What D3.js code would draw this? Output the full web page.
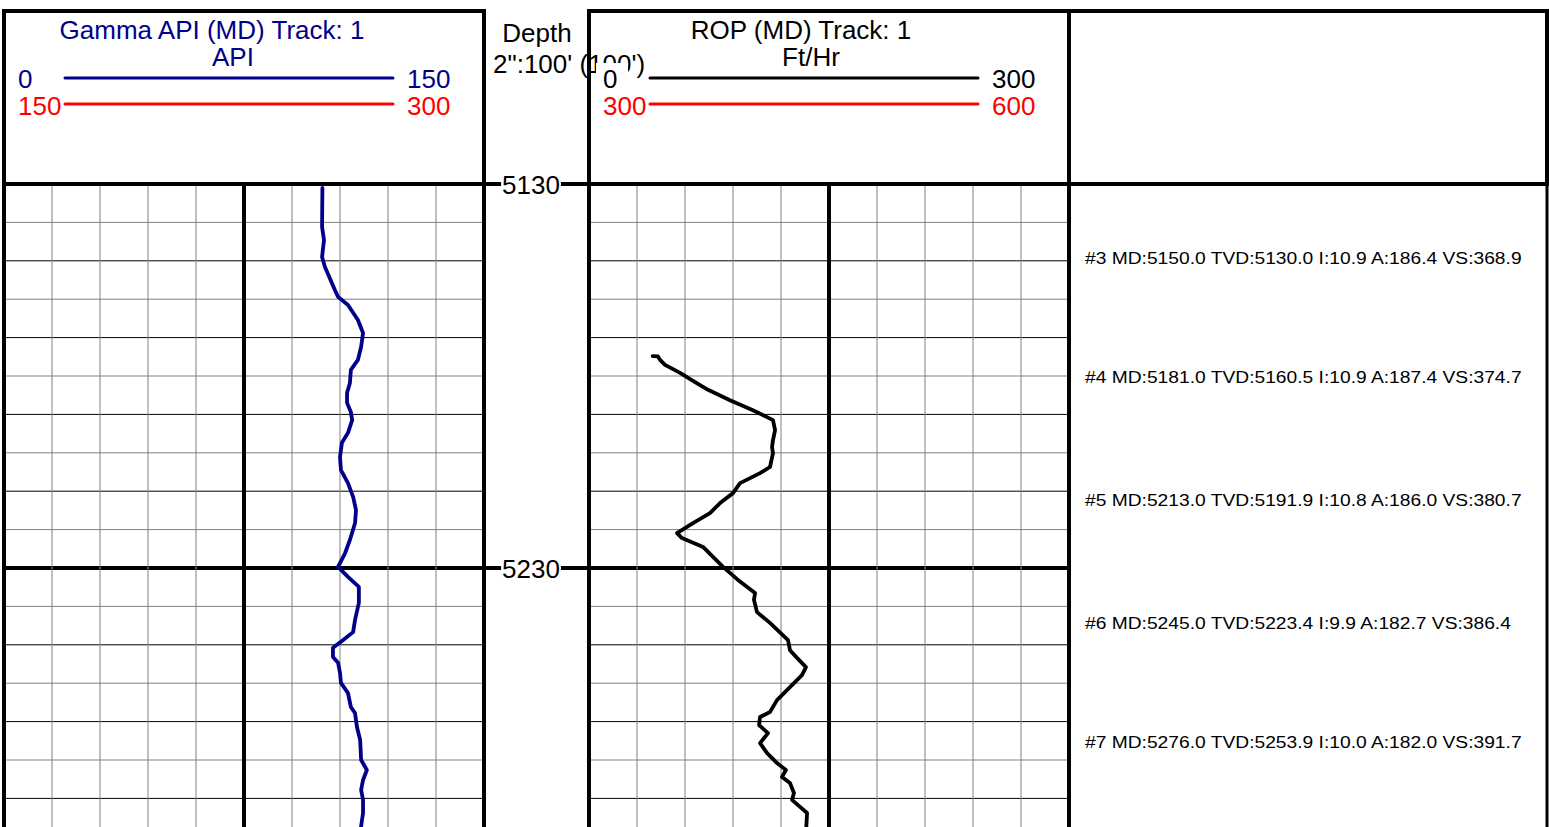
<!DOCTYPE html>
<html>
<head>
<meta charset="utf-8">
<script src="https://cdn.jsdelivr.net/npm/d3@7/dist/d3.min.js"></script>
<style>
  body { margin: 0; background: #fff; }
  svg { display: block; font-family: "Liberation Sans", Arial, sans-serif; }
</style>
</head>
<body>
<script>
// gamma ray (API) against measured depth
var gammaDepth = [5131.0, 5141.2, 5144.6, 5149.0, 5151.6, 5157.6, 5159.4, 5161.5, 5165.4, 5168.8,
  5172.4, 5175.8, 5178.4, 5181.8, 5184.4, 5187.0, 5189.4, 5191.5, 5194.8, 5197.4,
  5201.1, 5204.5, 5207.9, 5211.5, 5214.9, 5218.3, 5222.7, 5226.1, 5229.7, 5232.3,
  5234.9, 5239.1, 5243.5, 5246.7, 5248.8, 5250.8, 5253.2, 5254.7, 5257.3, 5259.9,
  5262.6, 5266.2, 5267.8, 5271.4, 5274.8, 5280.0, 5282.6, 5285.2, 5287.8, 5290.4,
  5293.8, 5299.0];
var gammaApi = [99.5, 99.4, 100.0, 99.4, 100.3, 103.4, 104.4, 107.5, 110.6, 112.2,
  111.6, 110.6, 108.4, 108.1, 107.2, 107.2, 108.4, 108.8, 107.5, 105.6,
  105.0, 105.3, 107.5, 109.1, 110.0, 109.7, 108.1, 106.6, 104.4, 107.5,
  110.9, 110.9, 109.7, 109.1, 105.9, 102.8, 102.8, 104.4, 105.0, 105.3,
  107.5, 108.4, 109.7, 110.3, 111.3, 111.6, 113.4, 112.2, 111.6, 112.2,
  112.2, 111.3];

// rate of penetration (ft/hr)
var ropDepth = [5174.8, 5174.9, 5175.8, 5177.1, 5179.2, 5181.6, 5183.6, 5186.3, 5188.9, 5191.5,
  5194.1, 5196.7, 5198.5, 5200.1, 5203.7, 5205.3, 5207.9, 5210.5, 5213.1, 5215.7,
  5218.3, 5220.9, 5222.2, 5224.5, 5227.1, 5229.7, 5233.1, 5236.5, 5238.3, 5241.5,
  5244.3, 5248.8, 5251.4, 5253.4, 5255.8, 5257.9, 5261.0, 5264.4, 5267.5, 5268.8,
  5270.9, 5273.0, 5275.6, 5278.2, 5280.8, 5282.6, 5284.4, 5286.0, 5288.6, 5290.4,
  5292.2, 5293.8, 5299.0];
var ropRate = [39.8, 43.1, 44.4, 47.5, 56.9, 66.3, 74.4, 88.1, 102.5, 115.0,
  116.3, 115.0, 114.4, 115.0, 113.1, 106.9, 94.4, 90.0, 81.9, 75.6,
  65.0, 55.0, 58.1, 71.3, 77.5, 83.8, 93.1, 103.8, 103.1, 105.0,
  113.1, 124.4, 125.6, 130.0, 135.6, 133.1, 125.6, 117.5, 113.1, 106.9,
  106.3, 111.9, 106.9, 111.3, 117.5, 123.1, 120.6, 125.6, 128.1, 126.9,
  131.9, 136.3, 135.6];

// survey stations
var surveyNo = [3, 4, 5, 6, 7];
var surveyMd = [5150.0, 5181.0, 5213.0, 5245.0, 5276.0];
var surveyTvd = [5130.0, 5160.5, 5191.9, 5223.4, 5253.9];
var surveyInc = [10.9, 10.9, 10.8, 9.9, 10.0];
var surveyAzi = [186.4, 187.4, 186.0, 182.7, 182.0];
var surveyVs = [368.9, 374.7, 380.7, 386.4, 391.7];

var depthLabels = [5130, 5230];
var gammaRange = [0, 150], gammaWrap = [150, 300];
var ropRange = [0, 300], ropWrap = [300, 600];

var w = 1549, h = 827;
var headTop = 11, gridTop = 184;
var navy = '#00008b', red = '#ff0000';
var bigFont = '26px';

var svg = d3.select('body').append('svg')
  .attr('width', w)
  .attr('height', h);

var y = d3.scaleLinear().domain([5130, 5230]).range([gridTop, 568]);
var depthEnd = y.invert(h);

var tracks = [
  { x: d3.scaleLinear().domain(gammaRange).range([4, 484]), wrap: gammaWrap, color: navy,
    title: 'Gamma API (MD) Track: 1', unit: 'API', titleX: 212, unitX: 233,
    depth: gammaDepth, vals: gammaApi },
  { x: d3.scaleLinear().domain(ropRange).range([589, 1069]), wrap: ropWrap, color: '#000',
    title: 'ROP (MD) Track: 1', unit: 'Ft/Hr', titleX: 801, unitX: 811,
    depth: ropDepth, vals: ropRate }
];

var gridDepths = d3.range(5130, depthEnd, 10);

tracks.forEach(function(t) {
  var r = t.x.range(), dom = t.x.domain();
  var g = svg.append('g');
  var divs = d3.range(1, 10).map(function(i) { return dom[0] + i * (dom[1] - dom[0]) / 10; });

  g.selectAll('line.h').data(gridDepths).enter().append('line')
    .attr('x1', r[0]).attr('x2', r[1])
    .attr('y1', y).attr('y2', y)
    .attr('stroke', function(d) { return (d - 5130) % 20 === 0 ? '#000' : '#808080'; })
    .attr('stroke-width', function(d) { return (d - 5130) % 100 === 0 ? 4 : 1; });

  g.selectAll('line.v').data(divs).enter().append('line')
    .attr('x1', t.x).attr('x2', t.x)
    .attr('y1', gridTop).attr('y2', h)
    .attr('stroke', function(d, i) { return i === 4 ? '#000' : '#808080'; })
    .attr('stroke-width', function(d, i) { return i === 4 ? 4 : 1; });

  var line = d3.line()
    .x(function(d, i) { return t.x(t.vals[i]); })
    .y(function(d) { return y(d); });

  g.append('path')
    .attr('d', line(t.depth))
    .attr('fill', 'none')
    .attr('stroke', t.color)
    .attr('stroke-width', 3.8)
    .attr('stroke-linejoin', 'round')
    .attr('stroke-linecap', 'round');
});

// track borders and header boxes
var edges = [4, 484, 589, 1069, 1547];
svg.selectAll('line.edge').data(edges).enter().append('line')
  .attr('x1', function(d) { return d; }).attr('x2', function(d) { return d; })
  .attr('y1', headTop).attr('y2', h)
  .attr('stroke', '#000')
  .attr('stroke-width', function(d) { return d === 1547 ? 3 : 4; });

var boxes = [[4, 484], [589, 1069], [1069, 1547]];
svg.selectAll('rect.head').data(boxes).enter().append('rect')
  .attr('x', function(d) { return d[0]; })
  .attr('y', headTop)
  .attr('width', function(d) { return d[1] - d[0]; })
  .attr('height', gridTop - headTop)
  .attr('fill', 'none')
  .attr('stroke', '#000')
  .attr('stroke-width', 4);

// header titles
tracks.forEach(function(t) {
  svg.append('text')
    .attr('x', t.titleX).attr('y', 39)
    .attr('text-anchor', 'middle')
    .attr('font-size', bigFont)
    .attr('fill', t.color)
    .text(t.title);
  svg.append('text')
    .attr('x', t.unitX).attr('y', 66)
    .attr('text-anchor', 'middle')
    .attr('font-size', bigFont)
    .attr('fill', t.color)
    .text(t.unit);
});

// depth column
svg.append('text')
  .attr('x', 537).attr('y', 42)
  .attr('text-anchor', 'middle')
  .attr('font-size', bigFont)
  .text('Depth');
svg.append('text')
  .attr('x', 493).attr('y', 73)
  .attr('font-size', bigFont)
  .text('2":100\' (100\')');

depthLabels.forEach(function(d) {
  var lbl = svg.append('text')
    .attr('x', 531).attr('y', y(d) + 10)
    .attr('text-anchor', 'middle')
    .attr('font-size', bigFont)
    .text(d);
  var bb = lbl.node().getBBox();
  svg.append('line')
    .attr('x1', 484).attr('x2', bb.x - 1)
    .attr('y1', y(d)).attr('y2', y(d))
    .attr('stroke', '#000').attr('stroke-width', 4);
  svg.append('line')
    .attr('x1', bb.x + bb.width + 1).attr('x2', 589)
    .attr('y1', y(d)).attr('y2', y(d))
    .attr('stroke', '#000').attr('stroke-width', 4);
});

// scale legends
tracks.forEach(function(t) {
  var x0 = t.x.range()[0];
  var rows = [
    { lo: t.x.domain()[0], hi: t.x.domain()[1], color: t.color, ly: 78, ty: 88 },
    { lo: t.wrap[0], hi: t.wrap[1], color: red, ly: 104, ty: 115 }
  ];
  rows.forEach(function(row, i) {
    if (i === 0) {
      svg.append('rect')
        .attr('x', x0 + 7).attr('y', 63)
        .attr('width', 32).attr('height', 29)
        .attr('fill', '#fff');
    }
    svg.append('text')
      .attr('x', x0 + 14).attr('y', row.ty)
      .attr('font-size', bigFont)
      .attr('fill', row.color)
      .text(row.lo);
    svg.append('line')
      .attr('x1', x0 + 61).attr('x2', x0 + 389)
      .attr('y1', row.ly).attr('y2', row.ly)
      .attr('stroke', row.color)
      .attr('stroke-width', 3)
      .attr('stroke-linecap', 'round');
    svg.append('text')
      .attr('x', x0 + 403).attr('y', row.ty)
      .attr('font-size', bigFont)
      .attr('fill', row.color)
      .text(row.hi);
  });
});

// survey annotations
svg.selectAll('text.survey').data(surveyMd).enter().append('text')
  .attr('transform', function(d) { return 'translate(1085,' + (y(d) + 3.5) + ') scale(1.165,1)'; })
  .attr('font-size', '16.5px')
  .text(function(d, i) {
    return '#' + surveyNo[i] + ' MD:' + d.toFixed(1) + ' TVD:' + surveyTvd[i].toFixed(1) +
      ' I:' + surveyInc[i].toFixed(1) + ' A:' + surveyAzi[i].toFixed(1) + ' VS:' + surveyVs[i].toFixed(1);
  });
</script>
</body>
</html>
